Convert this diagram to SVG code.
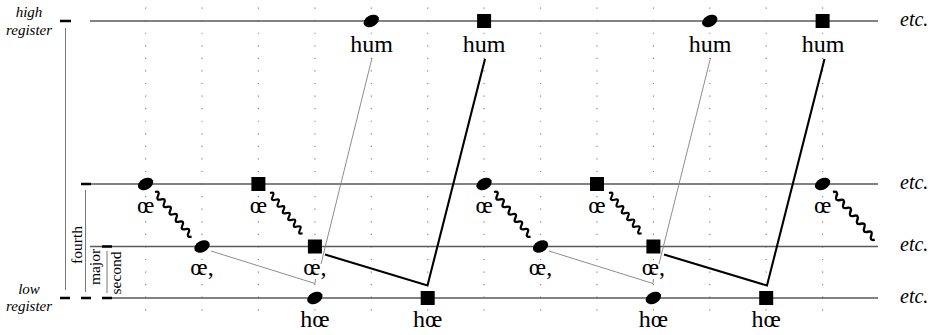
<svg xmlns="http://www.w3.org/2000/svg" xmlns:xlink="http://www.w3.org/1999/xlink" width="941" height="335" viewBox="0 0 941 335">
<style>
.bg{fill:#ffffff}
.dots{stroke:#888;stroke-width:1.2;stroke-dasharray:1.2 11.37;fill:none}
.staff{stroke:#5a5a5a;stroke-width:1.3;fill:none}
.tick{stroke:#000;stroke-width:2.6;fill:none}
.brk{stroke:#777;stroke-width:1;fill:none}
.thin{stroke:#808080;stroke-width:0.9;fill:none}
.thick{stroke:#000;stroke-width:2.1;fill:none;stroke-linejoin:miter}
.wave{stroke:#000;stroke-width:2.3;fill:none}
.serif{font-family:'Liberation Serif','DejaVu Serif',serif}
.lab{font-size:24px;fill:#000;text-anchor:middle}
.ital{font-style:italic;font-size:15px;fill:#000;text-anchor:middle}
.etc{font-style:italic;font-size:20px;fill:#000}
.side{font-size:15.5px;fill:#000;text-anchor:middle}
.note{fill:#000}
</style>
<defs>
<ellipse id="ov" cx="0" cy="0" rx="8.2" ry="5.6" transform="rotate(-28)"/>
<rect id="sq" x="-7" y="-7" width="14" height="14"/>
<path id="wave" d="M0,0 q2.4,-5 4.8,0 q2.4,5 4.8,0 q2.4,-5 4.8,0 q2.4,5 4.8,0 q2.4,-5 4.8,0 q2.4,5 4.8,0 q2.4,-5 4.8,0 q2.4,5 4.8,0 q2.4,-5 4.8,0 q2.4,5 4.8,0 q2.4,-5 4.8,0 q2.4,5 4.8,0"/>
</defs>
<rect class="bg" x="0" y="0" width="941" height="335"/>
<g id="grid">
<path class="dots" d="M145.6,7.5V311 M202,7.5V311 M258.4,7.5V311 M314.9,7.5V311 M371.3,7.5V311 M427.7,7.5V311 M484.1,7.5V311 M540.5,7.5V311 M597,7.5V311 M653.4,7.5V311 M709.8,7.5V311 M766.2,7.5V311 M822.6,7.5V311"/>
</g>
<g id="staves">
<path class="staff" d="M90,21H878 M91,184H878 M90,246.5H878 M108,298H878"/>
<path class="tick" d="M60,21H71 M60,298H70 M81,184H91 M81,298H91 M102,246.5H112 M102,298H112"/>
<path class="brk" d="M65.5,28V290 M85.5,190V292 M107,251V293"/>
</g>
<g id="side-labels" class="serif">
<text class="ital" x="29" y="17">high</text>
<text class="ital" x="29" y="35">register</text>
<text class="ital" x="29" y="294">low</text>
<text class="ital" x="29" y="311">register</text>
<text class="side" transform="translate(82,245) rotate(-90)">fourth</text>
<text class="side" transform="translate(100,267) rotate(-90)">major</text>
<text class="side" transform="translate(121,273) rotate(-90)">second</text>
</g>
<g id="connectors">
<polyline class="thin" points="211,251 315,283.5 315.6,279"/>
<polyline class="thin" points="549,251 653,283.5 653.6,279"/>
<line class="thin" x1="372" y1="58" x2="321" y2="264"/>
<line class="thin" x1="710.5" y1="58" x2="659" y2="264"/>
<polyline class="thick" points="325,254.5 427.5,285.5 485,59"/>
<polyline class="thick" points="664,254.5 767,285.5 824.5,59"/>
<use href="#wave" class="wave" transform="translate(155,192) rotate(50.6)"/>
<use href="#wave" class="wave" transform="translate(270,193) rotate(51) scale(0.9,1)"/>
<use href="#wave" class="wave" transform="translate(494,192) rotate(50.6)"/>
<use href="#wave" class="wave" transform="translate(609,193) rotate(51) scale(0.9,1)"/>
<use href="#wave" class="wave" transform="translate(833,192) rotate(48.8) scale(1.1,1)"/>
</g>
<g id="row-high" class="serif">
<use href="#ov" class="note" x="371.3" y="21"/>
<use href="#sq" class="note" x="484.1" y="21"/>
<use href="#ov" class="note" x="709.8" y="21"/>
<use href="#sq" class="note" x="822.6" y="21"/>
<text class="lab" x="371.5" y="52">hum</text>
<text class="lab" x="484" y="52">hum</text>
<text class="lab" x="710" y="52">hum</text>
<text class="lab" x="823" y="52">hum</text>
</g>
<g id="row-mid1" class="serif">
<use href="#ov" class="note" x="145.6" y="184"/>
<use href="#sq" class="note" x="258.4" y="184"/>
<use href="#ov" class="note" x="484.1" y="184"/>
<use href="#sq" class="note" x="597" y="184"/>
<use href="#ov" class="note" x="822.6" y="184"/>
<text class="lab" x="145.6" y="213">œ</text>
<text class="lab" x="258.4" y="213">œ</text>
<text class="lab" x="484.1" y="213">œ</text>
<text class="lab" x="597" y="213">œ</text>
<text class="lab" x="822.6" y="213">œ</text>
</g>
<g id="row-mid2" class="serif">
<use href="#ov" class="note" x="202" y="246.5"/>
<use href="#sq" class="note" x="314.9" y="246.5"/>
<use href="#ov" class="note" x="540.5" y="246.5"/>
<use href="#sq" class="note" x="653.4" y="246.5"/>
<text class="lab" x="202" y="275">œ,</text>
<text class="lab" x="314.9" y="275">œ,</text>
<text class="lab" x="540.5" y="275">œ,</text>
<text class="lab" x="653.4" y="275">œ,</text>
</g>
<g id="row-low" class="serif">
<use href="#ov" class="note" x="314.9" y="298"/>
<use href="#sq" class="note" x="427.7" y="298"/>
<use href="#ov" class="note" x="653.4" y="298"/>
<use href="#sq" class="note" x="766.2" y="298"/>
<text class="lab" x="314.9" y="327">hœ</text>
<text class="lab" x="427.7" y="327">hœ</text>
<text class="lab" x="653.4" y="327">hœ</text>
<text class="lab" x="766.2" y="327">hœ</text>
</g>
<g id="etc-labels" class="serif">
<text class="etc" x="900" y="26">etc.</text>
<text class="etc" x="900" y="189">etc.</text>
<text class="etc" x="900" y="251">etc.</text>
<text class="etc" x="900" y="303">etc.</text>
</g>
</svg>
